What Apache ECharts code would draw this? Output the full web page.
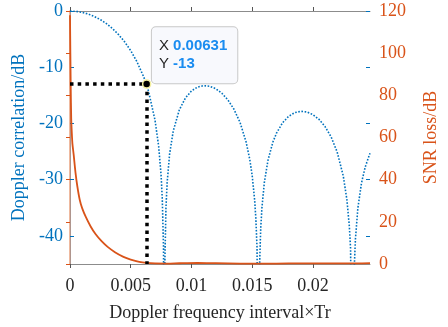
<!DOCTYPE html>
<html>
<head>
<meta charset="utf-8">
<script src="https://cdn.jsdelivr.net/npm/echarts@6/dist/echarts.min.js"></script>
<style>html,body{margin:0;padding:0;background:#fff;}#c{width:448px;height:327px;}</style>
</head>
<body>
<div id="c"></div>
<script>
// Doppler correlation (dB), blue dotted curve
const corrX = [0,0.0005,0.001,0.0015,0.002,0.0025,0.003,0.0035,0.004,0.0045,0.005,0.0055,0.006,0.00631,0.0065,0.007,0.0073,0.0075,0.0076,0.0077,0.00776,0.0078,0.0079,0.008,0.0082,0.0085,0.009,0.0095,0.01,0.0105,0.011,0.0115,0.012,0.0125,0.013,0.0135,0.014,0.0145,0.0148,0.015,0.0152,0.0153,0.0154,0.01552,0.0156,0.0157,0.0158,0.016,0.0163,0.0167,0.017,0.0175,0.018,0.0185,0.019,0.0195,0.02,0.0205,0.021,0.0215,0.022,0.0225,0.0228,0.023,0.0231,0.02328,0.0234,0.0235,0.0237,0.024,0.0243,0.0247];
const corrY = [0,-0.06,-0.24,-0.54,-0.97,-1.53,-2.25,-3.13,-4.2,-5.49,-7.05,-8.97,-11.39,-13,-14.61,-19.41,-24.06,-29.22,-33.55,-42.2,-80,-45.8,-35.03,-30.47,-25.46,-21.34,-17.59,-15.48,-14.22,-13.53,-13.27,-13.38,-13.82,-14.62,-15.81,-17.48,-19.82,-23.31,-26.38,-29.27,-33.56,-36.85,-42.17,-80,-45.8,-38.82,-35.05,-30.52,-26.55,-23.35,-21.73,-19.88,-18.73,-18.08,-17.84,-17.95,-18.43,-19.27,-20.56,-22.4,-25.1,-29.35,-33.59,-38.31,-42.2,-80,-45.8,-40.58,-35.07,-30.58,-27.79,-25.29];
// SNR loss (dB), orange curve
const lossX = [0,0.00003,0.00006,0.0001,0.00015,0.0002,0.0003,0.00045,0.0006,0.0008,0.001,0.0013,0.0017,0.0021,0.0026,0.0031,0.0037,0.0044,0.005,0.0057,0.0063,0.007,0.008,0.009,0.0105,0.012,0.014,0.016,0.018,0.02,0.022,0.0235,0.0247];
const lossY = [118,100,84,69,62,57,52,43.5,37,30.5,26.5,22.3,17.8,14.2,10.8,8.1,5.6,3.4,2.1,1.0,0.5,0.25,0.2,0.35,0.5,0.4,0.2,0.15,0.25,0.3,0.25,0.3,0.4];
// tick labels
const xTicks = [0,0.005,0.01,0.015,0.02];
const leftTicks = [-40,-30,-20,-10,0];
const rightTicks = [0,20,40,60,80,100,120];
// data tip
const tipX = 0.00631;
const tipY = -13;

const BLUE = '#0072BD', ORANGE = '#D95319', GRAY = '#262626';
const FONT = 'Liberation Serif';

const corrData = corrX.map((x,i)=>[x,corrY[i]]);
const lossData = lossX.map((x,i)=>[x,lossY[i]]);

const chart = echarts.init(document.getElementById('c'), null, {renderer:'canvas'});
chart.setOption({
  animation:false,
  backgroundColor:'#fff',
  grid:{left:70,right:62,top:11,bottom:62,containLabel:false},
  xAxis:[{
    type:'value',min:0,max:0.0247,interval:0.005,position:'bottom',
    name:'Doppler frequency interval\u00d7Tr',nameLocation:'middle',nameGap:40,
    nameTextStyle:{fontFamily:FONT,fontSize:18,color:GRAY},
    axisLine:{lineStyle:{color:'#8c8c8c',width:1}},
    axisTick:{inside:true,length:4,customValues:xTicks,lineStyle:{color:'#555'}},
    axisLabel:{fontFamily:FONT,fontSize:18,color:GRAY,margin:13,customValues:xTicks,
      formatter:v=>String(parseFloat(Number(v).toFixed(4)))},
    splitLine:{show:false}
  },{
    type:'value',min:0,max:0.0247,interval:0.005,position:'top',
    axisLine:{show:true,lineStyle:{color:'#8c8c8c',width:1}},
    axisTick:{inside:true,length:4,customValues:xTicks,lineStyle:{color:'#555'}},
    axisLabel:{show:false},splitLine:{show:false}
  }],
  yAxis:[{
    type:'value',min:-45,max:0,position:'left',
    name:'Doppler correlation/dB',nameLocation:'middle',nameGap:34,nameRotate:90,
    nameTextStyle:{fontFamily:FONT,fontSize:18,color:BLUE},
    axisLine:{show:true,lineStyle:{color:BLUE,width:1}},
    axisTick:{show:true,inside:true,length:4,customValues:leftTicks,lineStyle:{color:BLUE}},
    axisLabel:{fontFamily:FONT,fontSize:18,color:BLUE,margin:7,customValues:leftTicks},
    splitLine:{show:false}
  },{
    type:'value',min:0,max:120,interval:20,position:'right',
    name:'SNR loss/dB',nameLocation:'middle',nameGap:52,nameRotate:90,
    nameTextStyle:{fontFamily:FONT,fontSize:18,color:ORANGE},
    axisLine:{show:true,lineStyle:{color:'#eaa27e',width:1.5}},
    axisTick:{show:true,inside:true,length:4,lineStyle:{color:ORANGE}},
    axisLabel:{fontFamily:FONT,fontSize:18,color:ORANGE,margin:9},
    splitLine:{show:false}
  },{
    type:'value',min:-45,max:0,position:'right',
    axisLine:{show:false},
    axisTick:{show:true,inside:true,length:4,customValues:leftTicks,lineStyle:{color:BLUE}},
    axisLabel:{show:false},splitLine:{show:false}
  }],
  series:[{
    type:'line',xAxisIndex:0,yAxisIndex:0,data:corrData,showSymbol:false,
    lineStyle:{color:BLUE,width:1.6,type:[1.6,1.6]},
    clip:true,z:2,
    markLine:{
      silent:true,symbol:'none',animation:false,
      lineStyle:{color:'#000',width:3.5,type:[3.5,4.2],cap:'butt'},
      label:{show:false},
      data:[
        [{coord:[0,tipY]},{coord:[tipX,tipY]}],
        [{coord:[tipX,tipY]},{coord:[tipX,-45]}]
      ]
    },
    markPoint:{
      silent:true,animation:false,symbol:'circle',symbolSize:8,
      itemStyle:{color:'#000',borderColor:'#f4f0a0',borderWidth:1.5},
      label:{show:true,position:[10,-52],align:'left',verticalAlign:'top',
        backgroundColor:'#f8f9fd',borderColor:'#c8c8c8',borderWidth:1,borderRadius:4,
        padding:[10,10,10,7],lineHeight:18,
        fontFamily:'Liberation Sans',fontSize:15,color:'#262626',
        formatter:'X {b|'+tipX+'}\nY {b|'+tipY+'}',
        rich:{b:{fontFamily:'Liberation Sans',fontSize:15,fontWeight:'bold',color:'#1a8cf0',lineHeight:18}}
      },
      data:[{coord:[tipX,tipY]}]
    }
  },{
    type:'line',xAxisIndex:0,yAxisIndex:1,data:lossData,showSymbol:false,smooth:0.25,
    lineStyle:{color:ORANGE,width:1.8},clip:true,z:3
  }]
});
</script>
</body>
</html>
